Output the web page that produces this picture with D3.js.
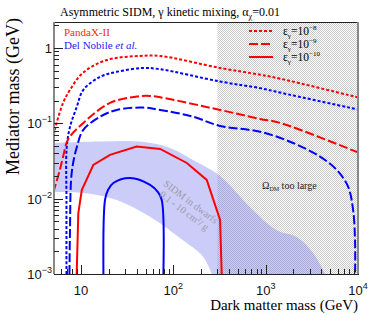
<!DOCTYPE html>
<html>
<head>
<meta charset="utf-8">
<script src="https://cdn.jsdelivr.net/npm/d3@7"></script>
<style>
body { margin: 0; background: #fff; }
</style>
</head>
<body>
<div id="chart"></div>
<script>
// curves as [dark matter mass (GeV), mediator mass (GeV)]
// PandaX-II (red)
var pandaE8 = [[5,0.06],[5.2,0.081],[6.4,0.186],[7.6,0.277],[10.5,0.466],[19.1,0.69],[43.5,0.78],[72,0.78],[321,0.54],[870,0.44],[1430,0.39],[10000,0.22]];
var pandaE9 = [[5,0.012],[5.9,0.024],[6.4,0.036],[7.3,0.062],[10.6,0.101],[20.6,0.186],[40,0.226],[56,0.23],[72,0.221],[321,0.15],[870,0.114],[1430,0.101],[10000,0.041]];
var pandaE10 = [[8.98,0.001],[9.35,0.0064],[10.2,0.013],[13.6,0.028],[20.6,0.038],[40,0.049],[72,0.0456],[140,0.0297],[230,0.0177],[321,0.0052],[334,0.001]];
// Del Nobile et al. (blue)
var nobileE8 = [[6.96,0.001],[6.96,0.0096],[7.0,0.048],[7.6,0.089],[9.0,0.165],[10.6,0.277],[16.1,0.412],[24.4,0.48],[47,0.54],[72,0.52],[321,0.357],[870,0.292],[1430,0.255],[10000,0.152]];
var nobileE9 = [[7.5,0.001],[7.6,0.0038],[7.93,0.022],[9.0,0.048],[10.6,0.0815],[16.1,0.122],[24.4,0.15],[47,0.161],[72,0.15],[163,0.122],[321,0.092],[870,0.077],[1982,0.0547],[3880,0.036],[5890,0.024],[7810,0.0144],[8850,0.0071],[9300,0.0026],[9300,0.001]];
var nobileE10 = [[17.5,0.001],[18.2,0.0096],[19.6,0.013],[22.4,0.0161],[34,0.0188],[56,0.0152],[68.2,0.0122],[74.9,0.0096],[78,0.001]];
// SIDM in dwarfs band, upper and lower edges
var bandUpper = [[4.8,0.0547],[16.1,0.0573],[43.5,0.057],[92,0.047],[163,0.0326],[321,0.02],[678,0.0077],[1318,0.0038],[2172,0.0031],[3265,0.0019],[4400,0.001]];
var bandLower = [[4.8,0.0122],[10.5,0.0119],[24.4,0.0096],[56,0.00575],[127,0.0028],[210,0.0017],[262,0.001]];
// relic density excluded above this mass
var omegaLimit = 300;

var xMajor = [10, 100, 1000, 10000];
var xLabels = [["10",""],["10","2"],["10","3"],["10","4"]];
var yMajor = [0.001, 0.01, 0.1, 1];
var yLabels = [["10","\u22123"],["10","\u22122"],["10","\u22121"],["1",""]];

var W = 374, H = 315;
var L = 54, R = 358, T = 22, B = 274;
var serif = "'Liberation Serif', 'DejaVu Serif', serif";
var sans = "'Liberation Sans', Arial, sans-serif";

var svg = d3.select("#chart").append("svg").attr("width", W).attr("height", H)
  .attr("font-family", serif);

var x = d3.scaleLog().domain([5.1, 1e4]).range([L, R]);
var y = d3.scaleLog().domain([1e-3, 2.2]).range([B, T]);

var defs = svg.append("defs");
defs.append("clipPath").attr("id", "clip")
  .append("rect").attr("x", L).attr("y", T).attr("width", R - L).attr("height", B - T);
var pat = defs.append("pattern").attr("id", "checker")
  .attr("patternUnits", "userSpaceOnUse").attr("width", 2).attr("height", 2);
pat.append("rect").attr("x", 0).attr("y", 0).attr("width", 1).attr("height", 1).attr("fill", "#777").attr("fill-opacity", 0.4);
pat.append("rect").attr("x", 1).attr("y", 1).attr("width", 1).attr("height", 1).attr("fill", "#777").attr("fill-opacity", 0.4);

var plot = svg.append("g").attr("clip-path", "url(#clip)");

// hatched region
plot.append("rect")
  .attr("x", x(omegaLimit)).attr("y", T)
  .attr("width", R - x(omegaLimit)).attr("height", B - T)
  .attr("fill", "url(#checker)");

var smooth = d3.line().x(function(d){ return x(d[0]); }).y(function(d){ return y(d[1]); }).curve(d3.curveCatmullRom.alpha(0.5));
var straight = d3.line().x(function(d){ return x(d[0]); }).y(function(d){ return y(d[1]); });

// band
var bandPath = smooth(bandUpper) + "L" + smooth(bandLower.slice().reverse()).slice(1) + "Z";
plot.append("path")
  .attr("d", bandPath)
  .attr("fill", "#7f7fee").attr("fill-opacity", 0.4).attr("stroke", "none");

var curves = [
  {data: pandaE8, color: "#f00", dash: "3,2", line: smooth},
  {data: nobileE8, color: "#00f", dash: "3,2", line: smooth},
  {data: pandaE9, color: "#f00", dash: "9,3", line: smooth},
  {data: nobileE9, color: "#00f", dash: "9,3", line: smooth},
  {data: pandaE10, color: "#f00", dash: null, line: straight},
  {data: nobileE10, color: "#00f", dash: null, line: smooth}
];
curves.forEach(function(c) {
  plot.append("path").attr("d", c.line(c.data))
    .attr("fill", "none").attr("stroke", c.color).attr("stroke-width", 2)
    .attr("stroke-dasharray", c.dash);
});

// frame
svg.append("line").attr("x1", L).attr("x2", R).attr("y1", T + 0.5).attr("y2", T + 0.5).attr("stroke", "#222");
svg.append("line").attr("x1", R).attr("x2", R).attr("y1", T).attr("y2", B).attr("stroke", "#888").attr("stroke-width", 2);
svg.append("line").attr("x1", L).attr("x2", L).attr("y1", T).attr("y2", B).attr("stroke", "#888").attr("stroke-width", 2);
svg.append("line").attr("x1", L).attr("x2", R + 1).attr("y1", B + 0.5).attr("y2", B + 0.5).attr("stroke", "#222");

// ticks
var axisG = svg.append("g").attr("stroke", "#222").attr("stroke-width", 1);
for (var e = 0; e < 4; e++) {
  for (var k = 1; k < 10; k++) {
    var v = Math.pow(10, e) * k;
    if (v < 5.1 || v > 1e4) continue;
    var len = k == 1 ? 9 : 5;
    axisG.append("line").attr("x1", Math.round(x(v)) + 0.5).attr("x2", Math.round(x(v)) + 0.5)
      .attr("y1", B).attr("y2", B - len);
  }
}
for (var e = -3; e <= 0; e++) {
  for (var k = 1; k < 10; k++) {
    var v = Math.pow(10, e) * k;
    if (v > 2.2) continue;
    var len = k == 1 ? 9 : 5;
    axisG.append("line").attr("y1", Math.round(y(v)) + 0.5).attr("y2", Math.round(y(v)) + 0.5)
      .attr("x1", L).attr("x2", L + len);
  }
}

// tick labels
xMajor.forEach(function(v, i) {
  var t = svg.append("text").attr("font-family", sans).attr("x", x(v)).attr("y", 295)
    .attr("text-anchor", "middle").attr("font-size", 13).attr("fill", "#111");
  t.append("tspan").text(xLabels[i][0]);
  if (xLabels[i][1]) t.append("tspan").attr("dy", -6).attr("font-size", 9).text(xLabels[i][1]);
});
yMajor.forEach(function(v, i) {
  var t = svg.append("text").attr("font-family", sans).attr("x", 52).attr("y", y(v) + 5)
    .attr("text-anchor", "end").attr("font-size", 13).attr("fill", "#111");
  t.append("tspan").text(yLabels[i][0]);
  if (yLabels[i][1]) t.append("tspan").attr("dy", -6).attr("font-size", 9).text(yLabels[i][1]);
});

// axis titles
svg.append("text").attr("x", 358).attr("y", 310).attr("text-anchor", "end")
  .attr("font-size", 15).text("Dark matter mass (GeV)");
svg.append("text").attr("transform", "translate(19,18) rotate(-90)").attr("text-anchor", "end")
  .attr("font-size", 18).text("Mediator mass (GeV)");

// title
var title = svg.append("text").attr("x", 60).attr("y", 16).attr("font-size", 12);
title.append("tspan").text("Asymmetric SIDM, \u03b3 kinetic mixing, \u03b1");
title.append("tspan").attr("dy", 3).attr("font-size", 8).text("\u03c7");
title.append("tspan").attr("dy", -3).text("=0.01");

// experiment labels
svg.append("text").attr("x", 64).attr("y", 36).attr("font-size", 11).attr("fill", "#f22").text("PandaX-II");
var dn = svg.append("text").attr("x", 64).attr("y", 48.5).attr("font-size", 11).attr("fill", "#22f");
dn.append("tspan").text("Del Nobile ");
dn.append("tspan").attr("font-style", "italic").text("et al.");

// legend
var legendExp = ["\u22128", "\u22129", "\u221210"];
var legendDash = ["3,2", "9,3", null];
legendExp.forEach(function(s, i) {
  var ly = 31 + i * 13;
  svg.append("line").attr("x1", 249).attr("x2", 273).attr("y1", ly).attr("y2", ly)
    .attr("stroke", "#f00").attr("stroke-width", 2).attr("stroke-dasharray", legendDash[i]);
  var t = svg.append("text").attr("x", 283).attr("y", ly + 4).attr("font-size", 11.5);
  t.append("tspan").text("\u03b5");
  t.append("tspan").attr("dy", 3).attr("font-size", 7).text("\u03b3");
  t.append("tspan").attr("dy", -3).text("=10");
  t.append("tspan").attr("dy", -5).attr("font-size", 7).text(s);
});

// region annotations
var om = svg.append("text").attr("x", 262).attr("y", 189).attr("font-size", 10).attr("fill", "#222");
om.append("tspan").text("\u03a9");
om.append("tspan").attr("dy", 2).attr("font-size", 6).text("DM");
om.append("tspan").attr("dy", -2).text(" too large");

var sg = svg.append("g").attr("transform", "translate(187,207) rotate(37)")
  .attr("fill", "#9a9aaa").attr("font-size", 10).attr("text-anchor", "middle");
sg.append("text").attr("y", -3).text("SIDM in dwarfs");
var s2 = sg.append("text").attr("y", 8);
s2.append("tspan").text("0.1 - 10 cm");
s2.append("tspan").attr("dy", -4).attr("font-size", 6).text("2");
s2.append("tspan").attr("dy", 4).text("/ g");
</script>
</body>
</html>
